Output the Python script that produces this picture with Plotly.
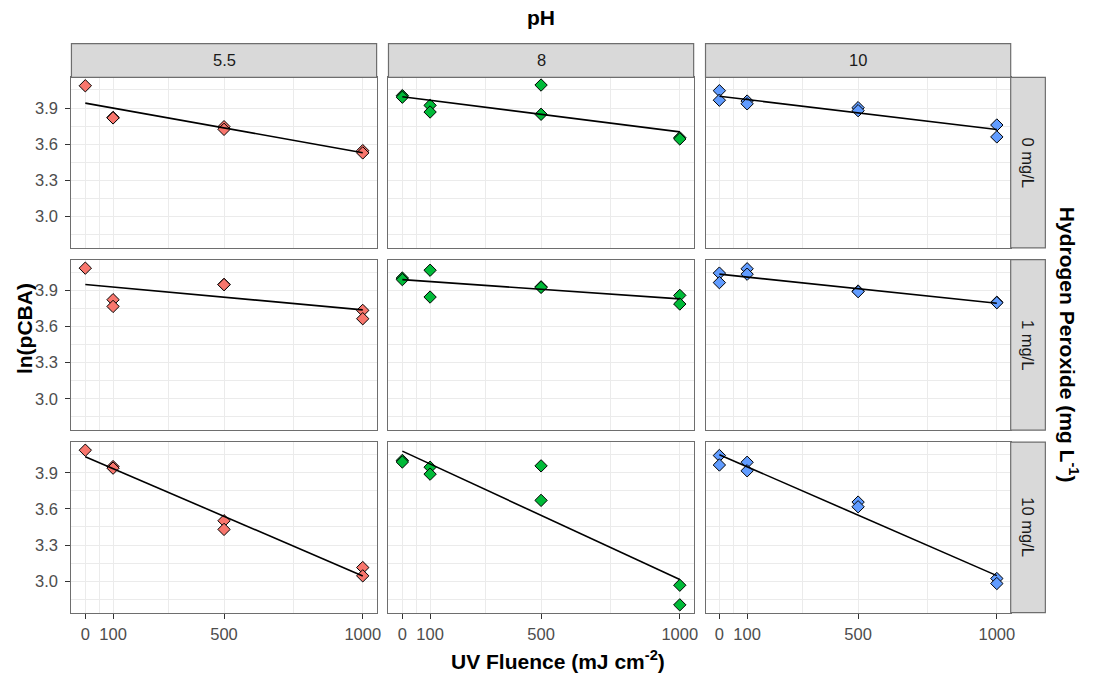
import numpy as np
import plotly.graph_objects as go

# Facet levels
ph_levels = ["5.5", "8", "10"]
h2o2_levels = ["0 mg/L", "1 mg/L", "10 mg/L"]
ph_colors = ["#F8766D", "#00BA38", "#619CFF"]

# UV fluence (mJ cm-2) of each sample
fluence_ph55 = [0, 100, 100, 500, 500, 1000, 1000]
fluence_ph8 = [0, 0, 100, 100, 500, 500, 1000, 1000]
fluence_ph10 = [0, 0, 100, 100, 500, 500, 1000, 1000]

# ln(pCBA) at pH 5.5
ln_ph55_h0 = [4.085, 3.822, 3.818, 3.745, 3.723, 3.546, 3.527]
ln_ph55_h1 = [4.085, 3.823, 3.767, 3.950, 3.948, 3.734, 3.665]
ln_ph55_h10 = [4.088, 3.952, 3.939, 3.502, 3.430, 3.113, 3.044]

# ln(pCBA) at pH 8
ln_ph8_h0 = [4.003, 3.990, 3.922, 3.867, 4.091, 3.848, 3.654, 3.643]
ln_ph8_h1 = [4.003, 3.990, 4.068, 3.845, 3.930, 3.925, 3.859, 3.787]
ln_ph8_h10 = [4.003, 3.990, 3.947, 3.889, 3.958, 3.671, 2.966, 2.803]

# ln(pCBA) at pH 10
ln_ph10_h0 = [4.044, 3.965, 3.958, 3.935, 3.903, 3.878, 3.759, 3.660]
ln_ph10_h1 = [4.044, 3.965, 4.080, 4.035, 3.895, 3.890, 3.802, 3.798]
ln_ph10_h10 = [4.044, 3.965, 3.988, 3.917, 3.657, 3.618, 3.022, 2.980]

x_ticks = [0, 100, 500, 1000]
x_minor = [50, 300, 750]
y_ticks = [3.0, 3.3, 3.6, 3.9]
y_minor = [2.85, 3.15, 3.45, 3.75, 4.05]

fluence = [fluence_ph55, fluence_ph8, fluence_ph10]
values = [
    [ln_ph55_h0, ln_ph8_h0, ln_ph10_h0],
    [ln_ph55_h1, ln_ph8_h1, ln_ph10_h1],
    [ln_ph55_h10, ln_ph8_h10, ln_ph10_h10],
]

# Shared scales with 5% expansion
all_y = [v for row in values for panel in row for v in panel]
all_x = [v for xs in fluence for v in xs]
y_lo, y_hi = min(all_y), max(all_y)
x_lo, x_hi = min(all_x), max(all_x)
y_range = [y_lo - 0.05 * (y_hi - y_lo), y_hi + 0.05 * (y_hi - y_lo)]
x_range = [x_lo - 0.05 * (x_hi - x_lo), x_hi + 0.05 * (x_hi - x_lo)]

W, H = 1094, 675
FONT = "Liberation Sans, Arial, sans-serif"
BORDER = "#6E6E6E"
GRID = "#EBEBEB"
TICK_SIZE = 16.5
TITLE_SIZE = 21

col_left = [71.7, 389.9, 708.1]
col_w = 306.3
row_top = [77.3, 259.7, 442.1]
row_h = 170.5
strip_top = 43.7
strip_right = 1049.2


def px_x(p):
    return p / W


def px_y(p):
    return 1 - p / H


fig = go.Figure()
shapes = []
annotations = []

for r in range(3):
    for c in range(3):
        idx = r * 3 + c + 1
        xa = "x" if idx == 1 else f"x{idx}"
        ya = "y" if idx == 1 else f"y{idx}"
        xs = np.array(fluence[c], dtype=float)
        ys = np.array(values[r][c], dtype=float)

        fig.add_trace(go.Scatter(
            x=xs, y=ys, mode="markers", xaxis=xa, yaxis=ya,
            marker=dict(symbol="diamond", size=9.5, color=ph_colors[c],
                        line=dict(color="black", width=1)),
            showlegend=False, hoverinfo="skip"))

        # Linear least-squares fit over the observed fluence span
        slope, intercept = np.polyfit(xs, ys, 1)
        fx = np.array([xs.min(), xs.max()])
        fig.add_trace(go.Scatter(
            x=fx, y=intercept + slope * fx, mode="lines", xaxis=xa, yaxis=ya,
            line=dict(color="black", width=1.6),
            showlegend=False, hoverinfo="skip"))

        x0, x1 = col_left[c], col_left[c] + col_w
        y0, y1 = row_top[r], row_top[r] + row_h
        bottom = r == 2
        left = c == 0
        axis_common = dict(
            showline=True, mirror=True, linecolor=BORDER, linewidth=1.2,
            showgrid=True, gridcolor=GRID, gridwidth=1.3, zeroline=False,
            tickfont=dict(family=FONT, size=TICK_SIZE, color="#4D4D4D"),
            tickcolor="#333333", ticklen=5, tickwidth=1,
        )
        key = "" if idx == 1 else str(idx)
        fig.layout[f"xaxis{key}"] = dict(
            axis_common, domain=[px_x(x0), px_x(x1)], range=x_range,
            anchor=ya, tickvals=x_ticks, showticklabels=bottom,
            ticks="outside" if bottom else "", ticklabelstandoff=1,
            minor=dict(tickvals=x_minor, showgrid=True, gridcolor=GRID,
                       gridwidth=0.7, ticks=""),
        )
        fig.layout[f"yaxis{key}"] = dict(
            axis_common, domain=[px_y(y1), px_y(y0)], range=y_range,
            anchor=xa, tickvals=y_ticks, tickformat=".1f",
            showticklabels=left, ticks="outside" if left else "",
            ticklabelstandoff=4,
            minor=dict(tickvals=y_minor, showgrid=True, gridcolor=GRID,
                       gridwidth=0.7, ticks=""),
        )


def label(text, x, y, size=TICK_SIZE, color="#1A1A1A", angle=0):
    return dict(text=text, xref="paper", yref="paper", x=px_x(x), y=px_y(y),
                xanchor="center", yanchor="middle", textangle=angle,
                showarrow=False, font=dict(family=FONT, size=size, color=color))


# Column strips (pH)
for c, lab in enumerate(ph_levels):
    x0, x1 = col_left[c], col_left[c] + col_w
    shapes.append(dict(type="rect", xref="paper", yref="paper",
                       x0=px_x(x0), x1=px_x(x1), y0=px_y(row_top[0]), y1=px_y(strip_top),
                       fillcolor="#D9D9D9", line=dict(color=BORDER, width=1.2)))
    annotations.append(label(lab, (x0 + x1) / 2, (strip_top + row_top[0]) / 2))

# Row strips (hydrogen peroxide)
strip_left = col_left[2] + col_w
for r, lab in enumerate(h2o2_levels):
    y0, y1 = row_top[r], row_top[r] + row_h
    shapes.append(dict(type="rect", xref="paper", yref="paper",
                       x0=px_x(strip_left), x1=px_x(strip_right), y0=px_y(y1), y1=px_y(y0),
                       fillcolor="#D9D9D9", line=dict(color=BORDER, width=1.2)))
    annotations.append(label(lab, (strip_left + strip_right) / 2, (y0 + y1) / 2, angle=90))

# Facet titles centre on the panels; axis titles span panels plus strips
panels_mid_x = (col_left[0] + col_left[2] + col_w) / 2
panels_mid_y = (row_top[0] + row_top[2] + row_h) / 2
area_mid_x = (col_left[0] + strip_right) / 2
area_mid_y = (strip_top + row_top[2] + row_h) / 2

annotations += [
    label("<b>pH</b>", panels_mid_x, 18, size=TITLE_SIZE, color="black"),
    label("<b>UV Fluence (mJ cm<sup>-2</sup>)</b>", area_mid_x, 660, size=TITLE_SIZE,
          color="black"),
    label("<b>ln(pCBA)</b>", 24, area_mid_y, size=TITLE_SIZE, color="black", angle=-90),
    label("<b>Hydrogen Peroxide (mg L<sup>-1</sup>)</b>", 1073, panels_mid_y,
          size=TITLE_SIZE, color="black", angle=90),
]

fig.update_layout(
    width=W, height=H, autosize=False,
    margin=dict(l=0, r=0, t=0, b=0),
    paper_bgcolor="white", plot_bgcolor="white",
    shapes=shapes, annotations=annotations,
    font=dict(family=FONT),
)

fig.write_html("out.html")
